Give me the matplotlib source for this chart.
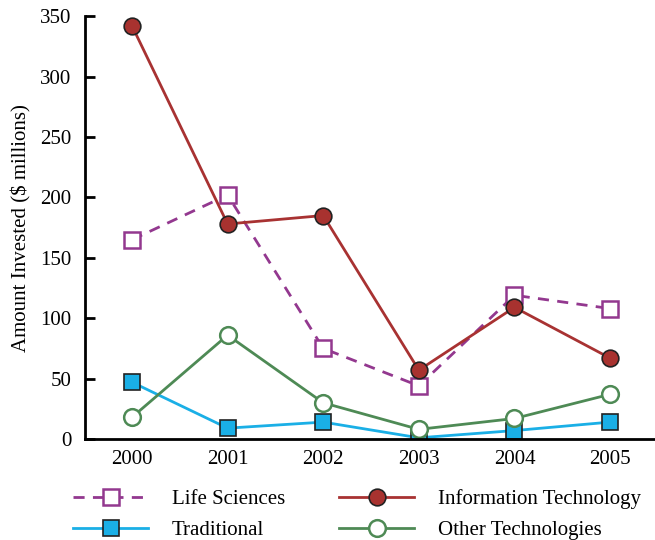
import matplotlib.pyplot as plt

plt.rcParams['font.family'] = ['Liberation Serif', 'DejaVu Serif']

years = [2000, 2001, 2002, 2003, 2004, 2005]
life_sciences = [165, 202, 75, 44, 119, 108]
info_tech = [342, 178, 185, 57, 109, 67]
traditional = [47, 9, 14, 1, 7, 14]
other_tech = [18, 86, 30, 8, 17, 37]

fig = plt.figure(figsize=(6.55, 5.4), dpi=100)
ax = fig.add_axes([0.130, 0.187, 0.87, 0.783])

ms = 12
l1, = ax.plot(years, life_sciences, linestyle='--', dashes=(4, 3), color='#93388F', lw=2,
              marker='s', ms=ms, mfc='white', mec='#93388F', mew=1.8, label='Life Sciences')
l2, = ax.plot(years, traditional, color='#1AAFE6', lw=2,
              marker='s', ms=ms, mfc='#1AAFE6', mec='#222222', mew=1.2, label='Traditional')
l3, = ax.plot(years, info_tech, color='#A83232', lw=2,
              marker='o', ms=ms, mfc='#A8322F', mec='#222222', mew=1.2, label='Information Technology')
l4, = ax.plot(years, other_tech, color='#4E8A55', lw=2,
              marker='o', ms=ms, mfc='white', mec='#4E8A55', mew=1.8, label='Other Technologies')

ax.set_xlim(1999.51, 2005.47)
ax.set_ylim(0, 350)
ax.set_yticks(range(0, 351, 50))
ax.set_xticks(years)
ax.tick_params(axis='y', direction='in', length=7, width=2, labelsize=15, pad=10)
ax.tick_params(axis='x', length=0, labelsize=15, pad=8)
ax.spines['right'].set_visible(False)
ax.spines['top'].set_visible(False)
ax.spines['left'].set_linewidth(2)
ax.spines['bottom'].set_linewidth(2)
ax.set_ylabel('Amount Invested ($ millions)', fontsize=15, labelpad=6)

fig.legend(handles=[l1, l2, l3, l4], ncol=2, frameon=False, fontsize=15,
           loc='upper left', bbox_to_anchor=(73 / 655, 1 - 489 / 540),
           borderpad=0, borderaxespad=0, handlelength=3.6,
           handletextpad=1.15, columnspacing=2.6, labelspacing=0.55)

plt.savefig('out.png', dpi=100)
